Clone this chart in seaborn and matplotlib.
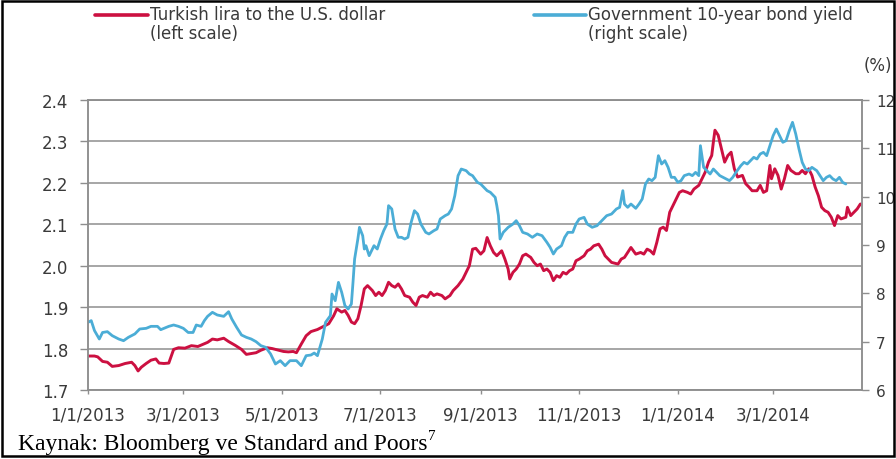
import matplotlib
matplotlib.use("Agg")
import matplotlib.pyplot as plt
from matplotlib.lines import Line2D
from matplotlib.patches import Rectangle
import pandas as pd
import seaborn as sns

# Turkish lira per U.S. dollar (left scale)
lira_dates = [
    "2013-01-01", "2013-01-05", "2013-01-07", "2013-01-10", "2013-01-13", "2013-01-16",
    "2013-01-20", "2013-01-24", "2013-01-28", "2013-01-30", "2013-02-01", "2013-02-03",
    "2013-02-06", "2013-02-09", "2013-02-12", "2013-02-14", "2013-02-17", "2013-02-20",
    "2013-02-23", "2013-02-26", "2013-03-02", "2013-03-06", "2013-03-10", "2013-03-13",
    "2013-03-16", "2013-03-19", "2013-03-22", "2013-03-26", "2013-03-29", "2013-04-02",
    "2013-04-06", "2013-04-09", "2013-04-12", "2013-04-15", "2013-04-18", "2013-04-22",
    "2013-04-25", "2013-04-29", "2013-05-02", "2013-05-05", "2013-05-08", "2013-05-10",
    "2013-05-13", "2013-05-16", "2013-05-19", "2013-05-23", "2013-05-26", "2013-05-30",
    "2013-06-02", "2013-06-04", "2013-06-07", "2013-06-09", "2013-06-11", "2013-06-13",
    "2013-06-15", "2013-06-17", "2013-06-19", "2013-06-21", "2013-06-23", "2013-06-26",
    "2013-06-28", "2013-06-30", "2013-07-02", "2013-07-04", "2013-07-06", "2013-07-08",
    "2013-07-10", "2013-07-12", "2013-07-14", "2013-07-16", "2013-07-19", "2013-07-21",
    "2013-07-23", "2013-07-25", "2013-07-27", "2013-07-30", "2013-08-01", "2013-08-03",
    "2013-08-05", "2013-08-08", "2013-08-10", "2013-08-13", "2013-08-15", "2013-08-18",
    "2013-08-21", "2013-08-23", "2013-08-25", "2013-08-27", "2013-08-29", "2013-09-01",
    "2013-09-03", "2013-09-05", "2013-09-07", "2013-09-09", "2013-09-11", "2013-09-14",
    "2013-09-16", "2013-09-18", "2013-09-19", "2013-09-21", "2013-09-23", "2013-09-25",
    "2013-09-27", "2013-09-29", "2013-10-02", "2013-10-04", "2013-10-06", "2013-10-08",
    "2013-10-10", "2013-10-12", "2013-10-14", "2013-10-16", "2013-10-18", "2013-10-20",
    "2013-10-22", "2013-10-24", "2013-10-26", "2013-10-28", "2013-10-30", "2013-11-01",
    "2013-11-04", "2013-11-06", "2013-11-08", "2013-11-10", "2013-11-13", "2013-11-15",
    "2013-11-17", "2013-11-19", "2013-11-21", "2013-11-23", "2013-11-25", "2013-11-27",
    "2013-11-29", "2013-12-01", "2013-12-03", "2013-12-06", "2013-12-09", "2013-12-11",
    "2013-12-13", "2013-12-15", "2013-12-17", "2013-12-19", "2013-12-21", "2013-12-23",
    "2013-12-25", "2013-12-27", "2013-12-29", "2013-12-31", "2014-01-02", "2014-01-04",
    "2014-01-07", "2014-01-09", "2014-01-11", "2014-01-14", "2014-01-16", "2014-01-18",
    "2014-01-20", "2014-01-22", "2014-01-23", "2014-01-24", "2014-01-26", "2014-01-28",
    "2014-01-30", "2014-02-01", "2014-02-03", "2014-02-05", "2014-02-07", "2014-02-10",
    "2014-02-12", "2014-02-14", "2014-02-16", "2014-02-19", "2014-02-21", "2014-02-23",
    "2014-02-25", "2014-02-27", "2014-02-28", "2014-03-02", "2014-03-04", "2014-03-06",
    "2014-03-08", "2014-03-10", "2014-03-12", "2014-03-15", "2014-03-17", "2014-03-19",
    "2014-03-21", "2014-03-23", "2014-03-25", "2014-03-27", "2014-03-29", "2014-03-31",
    "2014-04-02", "2014-04-04", "2014-04-06", "2014-04-08", "2014-04-10", "2014-04-12",
    "2014-04-15", "2014-04-16", "2014-04-18", "2014-04-20", "2014-04-22", "2014-04-24",
]
lira_values = [
    1.782, 1.782, 1.780, 1.769, 1.767, 1.757,
    1.759, 1.764, 1.767, 1.759, 1.746, 1.755,
    1.764, 1.772, 1.775, 1.765, 1.764, 1.765,
    1.798, 1.802, 1.801, 1.807, 1.805, 1.810,
    1.815, 1.823, 1.821, 1.825, 1.817, 1.808,
    1.798, 1.786, 1.788, 1.790, 1.796, 1.802,
    1.800, 1.796, 1.793, 1.792, 1.793, 1.790,
    1.811, 1.831, 1.841, 1.846, 1.852, 1.860,
    1.879, 1.896, 1.888, 1.892, 1.880, 1.864,
    1.860, 1.872, 1.904, 1.944, 1.952, 1.940,
    1.928, 1.936, 1.928, 1.940, 1.960, 1.952,
    1.948, 1.956, 1.944, 1.928, 1.924, 1.912,
    1.904, 1.924, 1.928, 1.924, 1.936, 1.928,
    1.932, 1.928, 1.920, 1.928, 1.940, 1.952,
    1.968, 1.984, 2.000, 2.040, 2.042, 2.028,
    2.036, 2.068, 2.048, 2.032, 2.024, 2.036,
    2.016, 1.992, 1.968, 1.984, 1.992, 2.004,
    2.024, 2.028, 2.020, 2.008, 2.000, 2.004,
    1.988, 1.992, 1.984, 1.964, 1.976, 1.972,
    1.984, 1.980, 1.988, 1.992, 2.012, 2.016,
    2.024, 2.036, 2.040, 2.048, 2.052, 2.040,
    2.024, 2.016, 2.008, 2.006, 2.004, 2.016,
    2.020, 2.032, 2.044, 2.028, 2.032, 2.028,
    2.040, 2.036, 2.028, 2.056, 2.089, 2.093,
    2.085, 2.129, 2.145, 2.161, 2.177, 2.181,
    2.177, 2.173, 2.185, 2.194, 2.210, 2.226,
    2.250, 2.266, 2.298, 2.327, 2.315, 2.282,
    2.250, 2.266, 2.274, 2.234, 2.214, 2.218,
    2.198, 2.190, 2.181, 2.181, 2.194, 2.177,
    2.181, 2.242, 2.210, 2.234, 2.218, 2.185,
    2.210, 2.242, 2.230, 2.222, 2.222, 2.230,
    2.222, 2.234, 2.218, 2.190, 2.169, 2.141,
    2.133, 2.129, 2.117, 2.097, 2.121, 2.113,
    2.117, 2.141, 2.121, 2.129, 2.137, 2.149,
]

# Government 10-year bond yield, % (right scale)
yield_dates = [
    "2013-01-01", "2013-01-03", "2013-01-05", "2013-01-08", "2013-01-10", "2013-01-13",
    "2013-01-16", "2013-01-20", "2013-01-23", "2013-01-26", "2013-01-30", "2013-02-02",
    "2013-02-06", "2013-02-09", "2013-02-13", "2013-02-15", "2013-02-20", "2013-02-23",
    "2013-02-26", "2013-03-01", "2013-03-04", "2013-03-07", "2013-03-09", "2013-03-12",
    "2013-03-14", "2013-03-16", "2013-03-19", "2013-03-22", "2013-03-26", "2013-03-29",
    "2013-03-31", "2013-04-03", "2013-04-06", "2013-04-09", "2013-04-12", "2013-04-15",
    "2013-04-18", "2013-04-21", "2013-04-24", "2013-04-27", "2013-04-30", "2013-05-03",
    "2013-05-06", "2013-05-10", "2013-05-13", "2013-05-16", "2013-05-19", "2013-05-21",
    "2013-05-23", "2013-05-26", "2013-05-28", "2013-05-31", "2013-06-01", "2013-06-03",
    "2013-06-05", "2013-06-07", "2013-06-09", "2013-06-11", "2013-06-13", "2013-06-14",
    "2013-06-15", "2013-06-17", "2013-06-18", "2013-06-20", "2013-06-21", "2013-06-22",
    "2013-06-24", "2013-06-27", "2013-06-29", "2013-07-01", "2013-07-03", "2013-07-05",
    "2013-07-06", "2013-07-08", "2013-07-10", "2013-07-12", "2013-07-14", "2013-07-16",
    "2013-07-18", "2013-07-20", "2013-07-22", "2013-07-24", "2013-07-26", "2013-07-29",
    "2013-07-31", "2013-08-03", "2013-08-05", "2013-08-07", "2013-08-10", "2013-08-12",
    "2013-08-14", "2013-08-16", "2013-08-18", "2013-08-20", "2013-08-23", "2013-08-25",
    "2013-08-27", "2013-08-30", "2013-09-01", "2013-09-03", "2013-09-05", "2013-09-07",
    "2013-09-10", "2013-09-11", "2013-09-12", "2013-09-13", "2013-09-15", "2013-09-18",
    "2013-09-21", "2013-09-23", "2013-09-25", "2013-09-27", "2013-09-30", "2013-10-03",
    "2013-10-06", "2013-10-09", "2013-10-12", "2013-10-14", "2013-10-16", "2013-10-18",
    "2013-10-21", "2013-10-23", "2013-10-25", "2013-10-28", "2013-10-30", "2013-11-01",
    "2013-11-04", "2013-11-06", "2013-11-09", "2013-11-12", "2013-11-15", "2013-11-18",
    "2013-11-21", "2013-11-24", "2013-11-26", "2013-11-28", "2013-11-29", "2013-12-01",
    "2013-12-03", "2013-12-06", "2013-12-08", "2013-12-10", "2013-12-12", "2013-12-14",
    "2013-12-16", "2013-12-18", "2013-12-20", "2013-12-22", "2013-12-24", "2013-12-26",
    "2013-12-28", "2013-12-30", "2014-01-01", "2014-01-03", "2014-01-05", "2014-01-08",
    "2014-01-10", "2014-01-12", "2014-01-14", "2014-01-15", "2014-01-17", "2014-01-19",
    "2014-01-21", "2014-01-23", "2014-01-25", "2014-01-27", "2014-01-29", "2014-01-31",
    "2014-02-02", "2014-02-04", "2014-02-06", "2014-02-09", "2014-02-11", "2014-02-13",
    "2014-02-15", "2014-02-17", "2014-02-19", "2014-02-21", "2014-02-23", "2014-02-25",
    "2014-02-27", "2014-03-01", "2014-03-03", "2014-03-05", "2014-03-07", "2014-03-09",
    "2014-03-11", "2014-03-13", "2014-03-15", "2014-03-17", "2014-03-19", "2014-03-21",
    "2014-03-23", "2014-03-25", "2014-03-28", "2014-03-30", "2014-04-01", "2014-04-03",
    "2014-04-05", "2014-04-07", "2014-04-09", "2014-04-11", "2014-04-13", "2014-04-15",
]
yield_values = [
    7.40, 7.435, 7.23, 7.055, 7.19, 7.207,
    7.124, 7.055, 7.02, 7.09, 7.16, 7.262,
    7.276, 7.317, 7.317, 7.248, 7.317, 7.345,
    7.317, 7.276, 7.19, 7.19, 7.345, 7.317,
    7.435, 7.524, 7.607, 7.552, 7.524, 7.62,
    7.469, 7.296, 7.138, 7.09, 7.055, 7.00,
    6.917, 6.883, 6.745, 6.538, 6.607, 6.503,
    6.607, 6.607, 6.503, 6.71, 6.724, 6.765,
    6.71, 7.055, 7.40, 7.538, 7.986, 7.848,
    8.227, 8.02, 7.745, 7.676, 7.779, 8.227,
    8.71, 9.124, 9.365, 9.193, 8.917, 8.986,
    8.779, 8.986, 8.917, 9.124, 9.296, 9.434,
    9.814, 9.745, 9.331, 9.159, 9.159, 9.124,
    9.159, 9.469, 9.71, 9.641, 9.434, 9.262,
    9.228, 9.296, 9.331, 9.538, 9.607, 9.641,
    9.745, 10.02, 10.434, 10.572, 10.538, 10.469,
    10.434, 10.296, 10.262, 10.193, 10.124, 10.09,
    9.986, 9.814, 9.607, 9.124, 9.262, 9.365,
    9.434, 9.503, 9.40, 9.262, 9.228, 9.159,
    9.228, 9.193, 9.055, 8.952, 8.814, 8.917,
    8.986, 9.159, 9.262, 9.262, 9.434, 9.538,
    9.572, 9.434, 9.366, 9.40, 9.503, 9.607,
    9.641, 9.745, 9.779, 10.124, 9.848, 9.779,
    9.848, 9.759, 9.848, 9.952, 10.262, 10.366,
    10.331, 10.40, 10.848, 10.676, 10.745, 10.607,
    10.40, 10.40, 10.297, 10.331, 10.435, 10.469,
    10.435, 10.503, 10.435, 11.055, 10.607, 10.538,
    10.469, 10.572, 10.503, 10.435, 10.40, 10.366,
    10.331, 10.40, 10.503, 10.641, 10.71, 10.676,
    10.745, 10.814, 10.779, 10.883, 10.917, 10.848,
    11.055, 11.262, 11.40, 11.262, 11.124, 11.159,
    11.366, 11.538, 11.297, 10.986, 10.71, 10.572,
    10.538, 10.607, 10.538, 10.435, 10.331, 10.40,
    10.435, 10.366, 10.331, 10.40, 10.297, 10.262,
]

x_tick_labels = ["1/1/2013", "3/1/2013", "5/1/2013", "7/1/2013",
                 "9/1/2013", "11/1/2013", "1/1/2014", "3/1/2014"]
left_ticks = [1.7, 1.8, 1.9, 2.0, 2.1, 2.2, 2.3, 2.4]
right_ticks = [6, 7, 8, 9, 10, 11, 12]
x_start, x_end = "2013-01-01", "2014-04-25"

lira_label = "Turkish lira to the U.S. dollar\n(left scale)"
yield_label = "Government 10-year bond yield\n(right scale)"
source_text = "Kaynak: Bloomberg ve Standard and Poors"
source_note = "7"

sns.set_theme(style="white")
plt.rcParams["font.family"] = ["DejaVu Sans"]

RED = "#CC1041"
BLUE = "#4BADD6"
GRID = "#8E8E8E"
TEXT = "#3A3A3A"

W, H = 896, 460
fig = plt.figure(figsize=(W / 100, H / 100), dpi=100)
ax = fig.add_axes([88 / W, 69 / H, 774 / W, 290 / H])

lira = pd.DataFrame({"date": pd.to_datetime(lira_dates), "rate": lira_values})
bond = pd.DataFrame({"date": pd.to_datetime(yield_dates), "yield": yield_values})

sns.lineplot(data=lira, x="date", y="rate", ax=ax, color=RED,
             linewidth=2.1, estimator=None)
ax2 = ax.twinx()
sns.lineplot(data=bond, x="date", y="yield", ax=ax2, color=BLUE,
             linewidth=2.0, estimator=None)

# axes limits and ticks
ax.set_xlim(pd.Timestamp(x_start), pd.Timestamp(x_end))
ax.set_xticks(pd.to_datetime(x_tick_labels, format="%m/%d/%Y"))
ax.set_xticklabels(x_tick_labels)
ax.set_ylim(left_ticks[0], left_ticks[-1])
ax.set_yticks(left_ticks)
ax.set_yticklabels([f"{v:.1f}" for v in left_ticks])
ax2.set_ylim(right_ticks[0], right_ticks[-1])
ax2.set_yticks(right_ticks)
ax2.set_yticklabels([str(v) for v in right_ticks])
for a in (ax, ax2):
    a.set_xlabel("")
    a.set_ylabel("")
    for side in ("left", "right", "bottom", "top"):
        a.spines[side].set_color(GRID)
        a.spines[side].set_linewidth(1.1)

ax.yaxis.grid(True, color=GRID, linewidth=1.1)
ax.xaxis.grid(False)
ax.set_axisbelow(True)

ax.tick_params(axis="y", left=True, direction="out", length=6, width=1,
               color=GRID, pad=8, labelsize=12, labelcolor=TEXT)
ax.tick_params(axis="x", bottom=True, direction="out", length=3, width=1,
               color=GRID, pad=8, labelsize=12, labelcolor=TEXT)
ax2.tick_params(axis="y", right=True, direction="out", length=5, width=1,
                color=GRID, pad=5, labelsize=11, labelcolor=TEXT)

# legend entries across the top
fig.add_artist(Line2D([95 / W, 148 / W], [1 - 16 / H] * 2, color=RED,
                      linewidth=2.6, transform=fig.transFigure))
fig.text(150 / W, 1 - 6 / H, lira_label, ha="left", va="top",
         fontsize=12, color=TEXT, linespacing=1.1)
fig.add_artist(Line2D([534 / W, 586 / W], [1 - 16 / H] * 2, color=BLUE,
                      linewidth=2.6, transform=fig.transFigure))
fig.text(588 / W, 1 - 6 / H, yield_label, ha="left", va="top",
         fontsize=12, color=TEXT, linespacing=1.1)
fig.text(892 / W, 1 - 66 / H, "(%)", ha="right", va="center",
         fontsize=12, color=TEXT)

# source line with footnote marker
src = fig.text(18 / W, 1 - 450 / H, source_text, ha="left", va="baseline",
               fontsize=17, color="black", family="Liberation Serif")
fig.canvas.draw()
bb = src.get_window_extent()
fig.text((bb.x1 + 0.5) / W, 1 - 440 / H, source_note, ha="left",
         va="baseline", fontsize=11, color="black", family="Liberation Serif")

# outer frame
fig.add_artist(Rectangle((2 / W, 3 / H), 892 / W, 455 / H, fill=False,
                         edgecolor="black", linewidth=1.8,
                         transform=fig.transFigure))

fig.savefig("out.png", dpi=100)
